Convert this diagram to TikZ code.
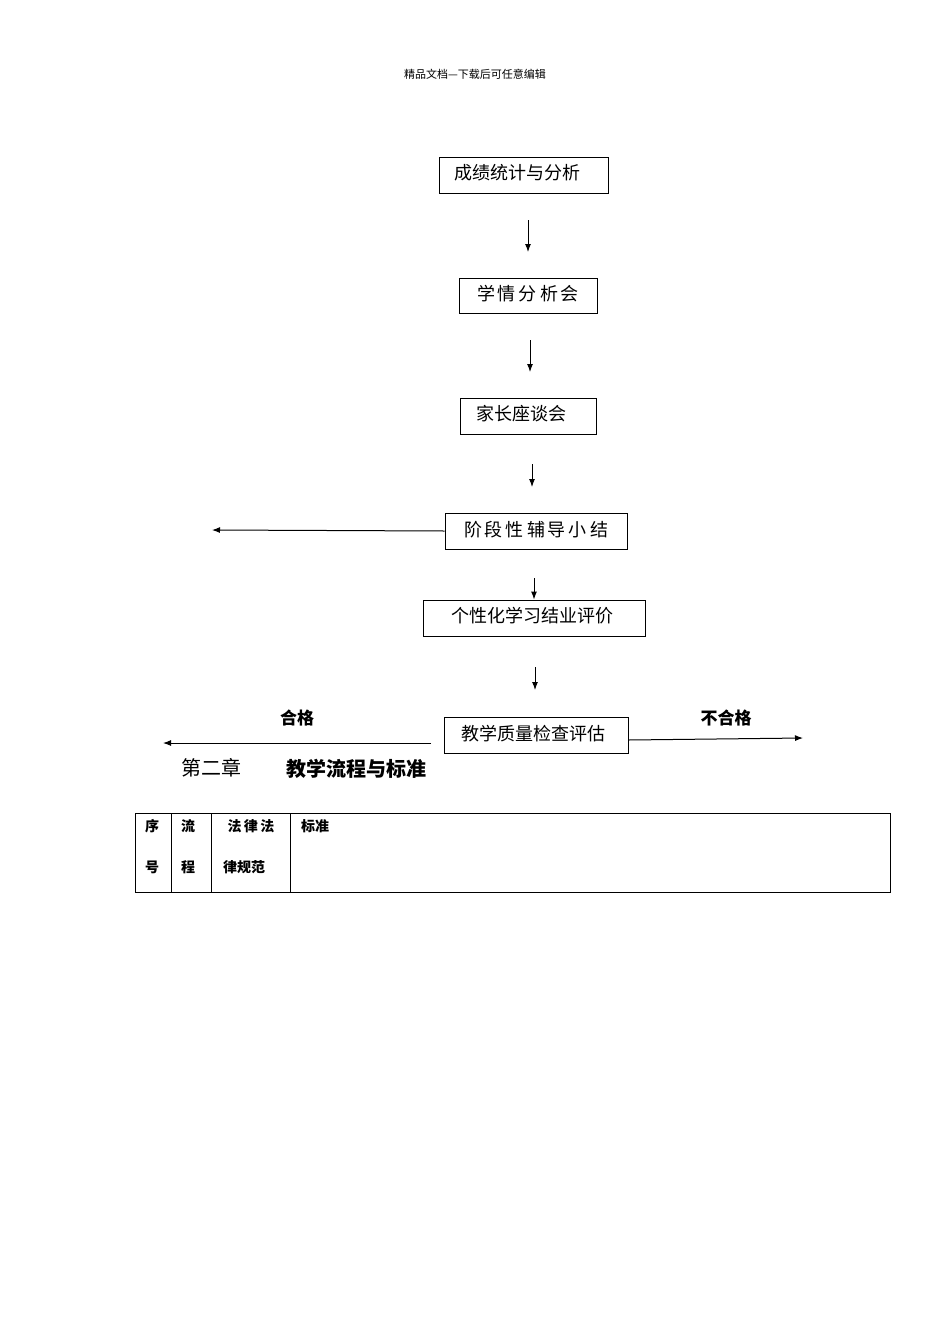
\documentclass[tikz,border=0pt]{standalone}
\usepackage{fontspec}
\setmainfont{Noto Sans CJK SC}
\newfontfamily\cjkb{Noto Sans CJK SC Bold}
\tikzset{bx/.style={draw,line width=1pt,inner sep=0pt},
 ar/.style={-{Latex[length=8pt,width=6pt]},line width=1pt},
 bt/.style={font=\fontsize{18}{18}\selectfont},
 tb/.style={font=\fontsize{14}{14}\selectfont\bfseries}}
\usetikzlibrary{arrows.meta}
\begin{document}
\begin{tikzpicture}[x=1pt,y=-1pt]
\useasboundingbox[fill=white] (0,0) rectangle (950,1344);
\node[font=\fontsize{11}{11}\selectfont] (hd) at (475,74) {精品文档---下载后可任意编辑};
\node[bx,minimum width=169pt,minimum height=36pt] (b1) at (523.5,175) {};
\node[bt] (t1) at (517,173) {成绩统计与分析};
\node[bx,minimum width=138pt,minimum height=35pt] (b2) at (528,295.5) {};
\node[bt] (t2) at (528,294) {学\,情\,分\,析\,会};
\node[bx,minimum width=136pt,minimum height=36pt] (b3) at (528,416) {};
\node[bt] (t3) at (521,414) {家长座谈会};
\node[bx,minimum width=182pt,minimum height=36pt] (b4) at (536,531) {};
\node[bt] (t4) at (536,530) {阶\,段\,性\,辅\,导\,小\,结};
\node[bx,minimum width=222pt,minimum height=36pt] (b5) at (534,618) {};
\node[bt] (t5) at (532,616) {个性化学习结业评价};
\node[bx,minimum width=184pt,minimum height=36pt] (b6) at (536,735) {};
\node[bt] (t6) at (533,734) {教学质量检查评估};
\coordinate (a1) at (528,220); \coordinate (a1e) at (528,252);
\coordinate (a2) at (530,340); \coordinate (a2e) at (530,372);
\coordinate (a3) at (532,464); \coordinate (a3e) at (532,487);
\coordinate (a4) at (534,578);
\coordinate (a5) at (535,667); \coordinate (a5e) at (535,690);
\draw[ar] (a1)--(a1e); \draw[ar] (a2)--(a2e); \draw[ar] (a3)--(a3e);
\draw[ar] (a4)--(b5.north -| a4); \draw[ar] (a5)--(a5e);
\coordinate (l1) at (212,530); \draw[ar] (b4.west)--(l1);
\coordinate (l2s) at (431,743); \coordinate (l2) at (163,743); \draw[ar] (l2s)--(l2);
\coordinate (r1) at (803,738); \draw[ar] (b6.east |- 0,740)--(r1);
\node[font=\fontsize{17}{17}\selectfont\bfseries] (q1) at (297,718) {合格};
\node[font=\fontsize{17}{17}\selectfont\bfseries] (q2) at (726,718) {不合格};
\node[font=\fontsize{20}{20}\selectfont] (c1) at (211,768) {第二章};
\node[font=\fontsize{20}{20}\selectfont\bfseries] (c2) at (356,769) {教学流程与标准};
\draw[line width=0.8pt] (135,813) rectangle (890,892);
\draw[line width=0.8pt] (171,813)--(171,892) (211,813)--(211,892) (290,813)--(290,892);
\node[tb] (s1) at (152,826) {序}; \node[tb] (s2) at (152,867) {号};
\node[tb] (s3) at (188,826) {流}; \node[tb] (s4) at (188,867) {程};
\node[tb] (s5) at (251,826) {法\,律\,法}; \node[tb] (s6) at (244,867) {律规范};
\node[tb] (s7) at (315,826) {标准};
\end{tikzpicture}
\end{document}
